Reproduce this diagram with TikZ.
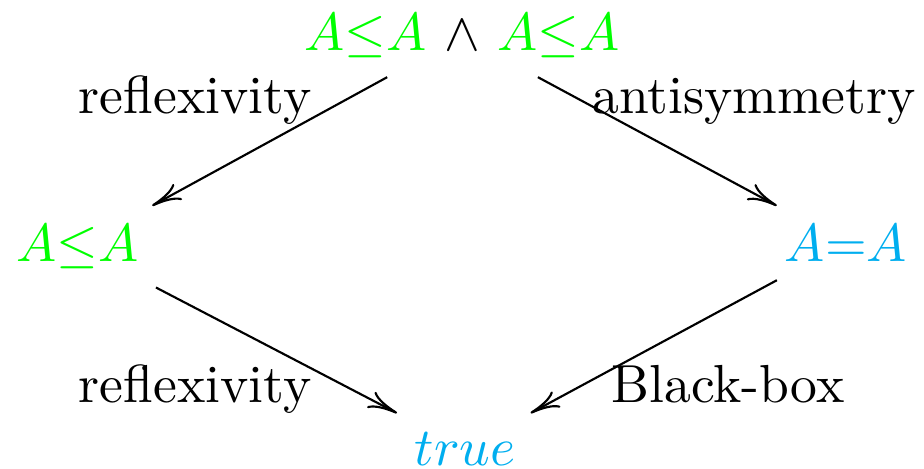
\documentclass[tikz,border=0pt]{standalone}
\usepackage{amsfonts,amsmath,amssymb}
\usetikzlibrary{arrows.meta}
\definecolor{lessgreen}{rgb}{0,1,0}
\definecolor{eqblue}{RGB}{0,174,239}
\tikzset{
	lbl/.style={anchor=base},
	greenrel/.style={anchor=base, text=lessgreen},
	bluerel/.style={anchor=base, text=eqblue},
	implies/.style={-{Computer Modern Rightarrow[length=5.5pt,width=3.4pt]}}
}

\begin{document}
\begin{tikzpicture}
		\useasboundingbox (0,0) rectangle (6.059,3.075);
		\node[lbl] (both) at (3.029,2.741) {$\textcolor{lessgreen}{A{\leq}A}$ $\wedge$ $\textcolor{lessgreen}{A{\leq}A}$};
		\node[greenrel] (leq) at (0.508,1.362) {$A{\leq}A$};
		\node[bluerel] (eq) at (5.547,1.362) {$A{=}A$};
		\node[bluerel] (true) at (3.049,0.026) {$true$};
		\draw[implies] (both) -- (leq);
		\draw[implies] (both) -- (eq);
		\draw[implies] (leq) -- (true);
		\draw[implies] (eq) -- (true);
		\node[lbl] (refltop) at (1.279,2.334) {reflexivity};
		\node[lbl] (antisym) at (4.944,2.334) {antisymmetry};
		\node[lbl] (reflbot) at (1.279,0.433) {reflexivity};
		\node[lbl] (blackbox) at (4.773,0.433) {Black-box};
\end{tikzpicture}
\end{document}
